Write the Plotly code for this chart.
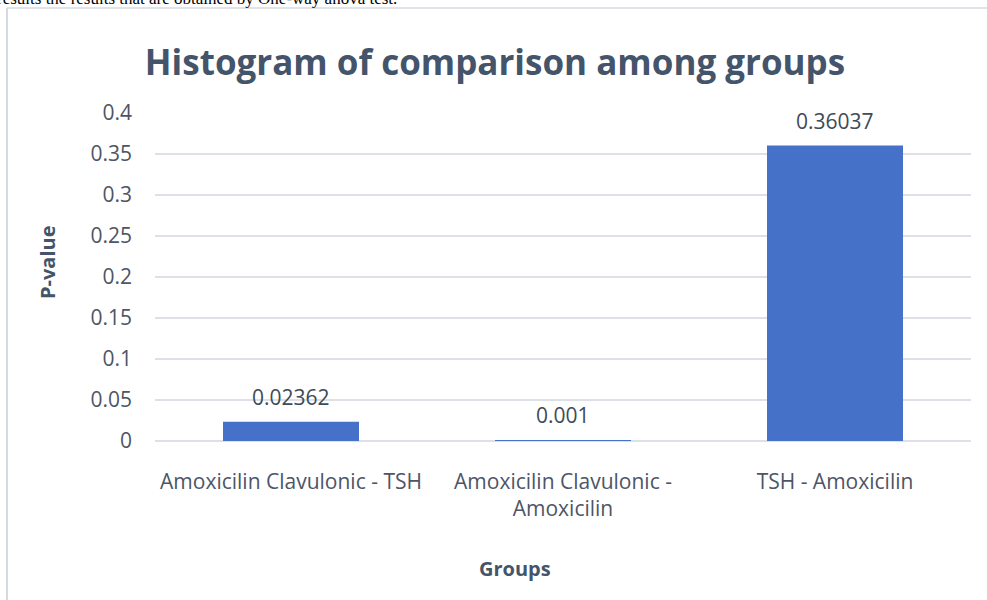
import plotly.graph_objects as go

# Pairwise group comparisons and their one-way ANOVA p-values
groups = [
    "Amoxicilin Clavulonic - TSH",
    "Amoxicilin Clavulonic -<br>Amoxicilin",
    "TSH - Amoxicilin",
]
p_values = [0.02362, 0.001, 0.36037]
p_labels = ["0.02362", "0.001", "0.36037"]
y_ticks = [0, 0.05, 0.1, 0.15, 0.2, 0.25, 0.3, 0.35, 0.4]
y_tick_text = ["0", "0.05", "0.1", "0.15", "0.2", "0.25", "0.3", "0.35", "0.4"]

W, H = 987, 600
ML, MR, MT, MB = 155, 16, 113, 159
PW, PH = W - ML - MR, H - MT - MB


def px_x(p):
    return (p - ML) / PW


def px_y(p):
    return (H - MB - p) / PH


FONT = "Open Sans"
TITLE_C = "#44546a"
TICK_C = "#4d5566"
GRID_C = "#dde1e7"

fig = go.Figure(
    go.Bar(
        x=groups,
        y=p_values,
        marker=dict(color="#4671c8", line=dict(width=0)),
        width=0.5,
        hoverinfo="x+y",
    )
)

annotations = []
for g, v, t in zip(groups, p_values, p_labels):
    annotations.append(dict(
        x=g, y=v, xref="x", yref="y", text=t, showarrow=False,
        yanchor="bottom", yshift=9,
        font=dict(family=FONT, size=21, color="#404a58"),
    ))

# axis titles, placed freely so they sit where the chart frame puts them
annotations.append(dict(
    x=px_x(515), y=px_y(568), xref="paper", yref="paper",
    xanchor="center", yanchor="middle", showarrow=False,
    text="<b>Groups</b>",
    font=dict(family=FONT, size=20, color=TITLE_C),
))
annotations.append(dict(
    x=px_x(47), y=px_y(262), xref="paper", yref="paper",
    xanchor="center", yanchor="middle", showarrow=False, textangle=-90,
    text="<b>P-value</b>",
    font=dict(family=FONT, size=20, color=TITLE_C),
))

# document text running above the chart frame
annotations.append(dict(
    x=px_x(399), y=px_y(10), xref="paper", yref="paper",
    xanchor="right", yanchor="bottom", showarrow=False,
    text="results the results that are obtained by One-way anova test.",
    font=dict(family="Liberation Serif", size=17, color="#000000"),
))

fig.update_layout(
    width=W, height=H,
    margin=dict(l=ML, r=MR, t=MT, b=MB),
    paper_bgcolor="white", plot_bgcolor="white",
    showlegend=False,
    title=dict(
        text="<b>Histogram of comparison among groups</b>",
        x=495 / W, xref="container", xanchor="center",
        y=1 - 63 / H, yref="container", yanchor="middle",
        font=dict(family=FONT, size=35, color=TITLE_C),
    ),
    xaxis=dict(
        showgrid=False, showline=False, zeroline=False,
        tickfont=dict(family=FONT, size=21, color=TICK_C),
        ticks="", ticklabelstandoff=26,
    ),
    yaxis=dict(
        range=[0, 0.4],
        tickvals=y_ticks, ticktext=y_tick_text,
        showgrid=True, gridcolor=GRID_C, gridwidth=1.5,
        zeroline=True, zerolinecolor=GRID_C, zerolinewidth=1.5,
        showline=False, ticks="",
        tickfont=dict(family=FONT, size=21, color=TICK_C),
        ticklabelstandoff=22,
    ),
    annotations=annotations,
    shapes=[
        dict(type="line", xref="paper", yref="paper",
             x0=px_x(7), x1=px_x(7), y0=px_y(8), y1=px_y(600),
             line=dict(color="#d6dbe2", width=2)),
        dict(type="line", xref="paper", yref="paper",
             x0=px_x(7), x1=px_x(987), y0=px_y(8), y1=px_y(8),
             line=dict(color="#d6dbe2", width=1.5)),
    ],
    bargap=0.5,
)

fig.write_html("out.html")
